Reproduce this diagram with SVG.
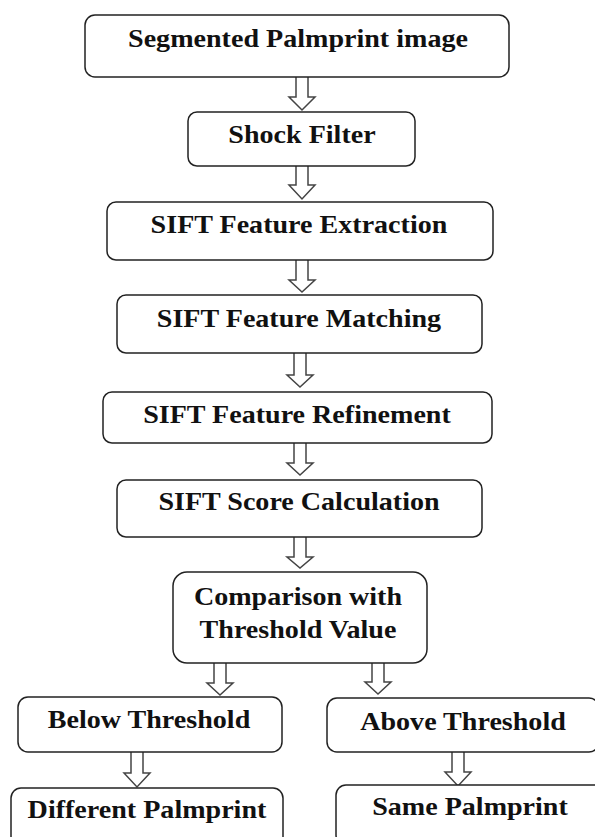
<svg xmlns="http://www.w3.org/2000/svg" width="595" height="837" viewBox="0 0 595 837">
<style>
.box{fill:#fff;stroke:#222;stroke-width:1.5}
.lbl{font-family:"Liberation Serif","Times New Roman",serif;font-weight:bold;font-size:26px;fill:#111;text-anchor:middle;transform-box:fill-box;transform-origin:center;transform:scaleX(1.08)}
.arr{fill:#fff;stroke:#444;stroke-width:1.5;stroke-linejoin:miter}
</style>
<rect width="595" height="837" fill="#fff"/>
<g id="connectors">
<path class="arr" d="M296,77 V97 H289 L302,110 L315,97 H308 V77"/>
<path class="arr" d="M296,166 V185 H289 L302,199 L315,185 H308 V166"/>
<path class="arr" d="M296,260 V280 H289 L302,292 L315,280 H308 V260"/>
<path class="arr" d="M294,353 V375 H287 L300,387 L313,375 H306 V353"/>
<path class="arr" d="M294,443 V463 H287 L300,475 L313,463 H306 V443"/>
<path class="arr" d="M294,537 V557 H287 L300,568 L313,557 H306 V537"/>
<path class="arr" d="M214,663 V683 H207 L220,695 L233,683 H226 V663"/>
<path class="arr" d="M372,663 V682 H365 L378,694 L391,682 H384 V663"/>
<path class="arr" d="M131,752 V773 H124 L137,787 L150,773 H143 V752"/>
<path class="arr" d="M452,752 V772 H445 L458,786 L471,772 H464 V752"/>
</g>
<g id="n1"><rect class="box" x="85" y="15" width="424" height="62" rx="10"/><text class="lbl" x="298" y="47">Segmented Palmprint image</text></g>
<g id="n2"><rect class="box" x="188" y="112" width="227" height="54" rx="9"/><text class="lbl" x="302" y="143">Shock Filter</text></g>
<g id="n3"><rect class="box" x="107" y="202" width="386" height="58" rx="9"/><text class="lbl" x="299" y="233">SIFT Feature Extraction</text></g>
<g id="n4"><rect class="box" x="117" y="295" width="365" height="58" rx="9"/><text class="lbl" x="299" y="327">SIFT Feature Matching</text></g>
<g id="n5"><rect class="box" x="103" y="392" width="389" height="51" rx="9"/><text class="lbl" x="297" y="423">SIFT Feature Refinement</text></g>
<g id="n6"><rect class="box" x="117" y="480" width="365" height="57" rx="9"/><text class="lbl" x="299" y="510">SIFT Score Calculation</text></g>
<g id="n7"><rect class="box" x="173" y="572" width="254" height="91" rx="14"/><text class="lbl" x="298" y="605">Comparison with</text><text class="lbl" x="298" y="638">Threshold Value</text></g>
<g id="n8"><rect class="box" x="18" y="697" width="264" height="55" rx="10"/><text class="lbl" x="149" y="728">Below Threshold</text></g>
<g id="n9"><rect class="box" x="327" y="698" width="272" height="54" rx="10"/><text class="lbl" x="463" y="730">Above Threshold</text></g>
<g id="n10"><rect class="box" x="11" y="788" width="272" height="60" rx="10"/><text class="lbl" x="147" y="818">Different Palmprint</text></g>
<g id="n11"><rect class="box" x="336" y="785" width="268" height="60" rx="10"/><text class="lbl" x="470" y="815">Same Palmprint</text></g>
</svg>
